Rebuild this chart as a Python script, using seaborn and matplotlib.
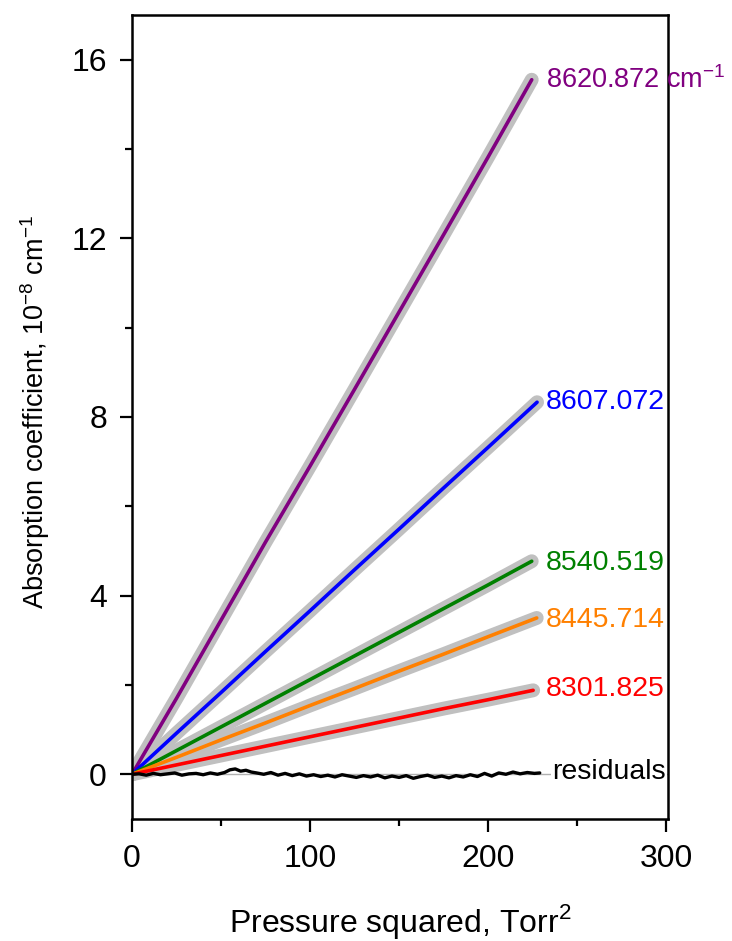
import numpy as np
import pandas as pd
import seaborn as sns
import matplotlib
matplotlib.use("Agg")
import matplotlib.pyplot as plt
from matplotlib.ticker import MultipleLocator

sns.set_style("white")
plt.rcParams['font.family'] = ['Liberation Sans', 'DejaVu Sans']
plt.rcParams['mathtext.fontset'] = 'custom'
plt.rcParams['mathtext.rm'] = 'Liberation Sans'
plt.rcParams['text.color'] = 'black'
plt.rcParams['axes.labelcolor'] = 'black'
plt.rcParams['xtick.color'] = 'black'
plt.rcParams['ytick.color'] = 'black'

# ---- data ----
x_pts = [0, 25, 50, 75, 100, 125, 150, 175, 200, 225]
s8620 = [0.0, 1.70, 3.45, 5.20, 6.90, 8.62, 10.35, 12.08, 13.82, 15.55]
s8607 = [0.0, 0.92, 1.83, 2.75, 3.66, 4.58, 5.49, 6.41, 7.32, 8.33]
s8540 = [0.0, 0.53, 1.06, 1.59, 2.12, 2.65, 3.18, 3.71, 4.24, 4.77]
s8445 = [0.0, 0.38, 0.77, 1.15, 1.54, 1.92, 2.31, 2.69, 3.08, 3.50]
s8301 = [0.0, 0.21, 0.42, 0.63, 0.84, 1.05, 1.26, 1.47, 1.67, 1.88]
end_x = [224.5, 227.5, 224.5, 227.3, 225.3]

series_names = ["8620.872", "8607.072", "8540.519", "8445.714", "8301.825"]
series_vals = [s8620, s8607, s8540, s8445, s8301]
series_colors = ["#800080", "#0000ff", "#008000", "#ff8000", "#ff0000"]
series_labels = ["8620.872 cm$^{-1}$", "8607.072", "8540.519", "8445.714", "8301.825"]
label_y = [15.55, 8.33, 4.74, 3.46, 1.90]

res_x = [0, 4, 8, 12, 16, 20, 24, 28, 32, 36, 40, 44, 48, 52, 55, 58, 61, 64, 67,
         70, 74, 78, 82, 86, 90, 94, 98, 102, 106, 110, 114, 118, 122, 126, 130,
         134, 138, 142, 146, 150, 154, 158, 162, 166, 170, 174, 178, 182, 186,
         190, 194, 198, 202, 206, 210, 214, 218, 222, 226, 229]
res_y = [0.0, 0.01, -0.02, 0.02, -0.01, 0.01, 0.03, -0.02, 0.01, 0.02, -0.01, 0.03,
         0.0, 0.04, 0.10, 0.12, 0.07, 0.09, 0.05, 0.03, 0.0, 0.04, -0.02, 0.02,
         -0.03, 0.01, -0.04, -0.01, -0.05, -0.02, -0.06, -0.01, -0.04, -0.07,
         -0.03, -0.06, -0.02, -0.08, -0.04, -0.07, -0.03, -0.09, -0.05, -0.02,
         -0.07, -0.04, -0.08, -0.03, -0.06, -0.01, -0.05, 0.02, -0.04, 0.03,
         0.0, 0.05, 0.01, 0.04, 0.02, 0.03]

# ---- build long-form table ----
rows = []
for name, vals, ex in zip(series_names, series_vals, end_x):
    xs = list(x_pts[:-1]) + [ex]
    for xv, yv in zip(xs, vals):
        rows.append({"x": xv, "y": yv, "series": name})
df = pd.DataFrame(rows)
df_res = pd.DataFrame({"x": res_x, "y": res_y})

fig = plt.figure(figsize=(7.32, 9.41), dpi=100)
ax = fig.add_axes([0.1803, 0.1297, 0.7322, 0.8544])

ax.axhline(0, color="#b0b0b0", lw=1.0, zorder=0)

# grey bands (data) behind fits
sns.lineplot(data=df, x="x", y="y", hue="series", hue_order=series_names,
             palette=["#c0c0c0"] * 5, lw=10, legend=False, ax=ax,
             solid_capstyle="round", zorder=1, estimator=None, sort=True)
sns.lineplot(data=df, x="x", y="y", hue="series", hue_order=series_names,
             palette=series_colors, lw=2.6, legend=False, ax=ax,
             zorder=2, estimator=None, sort=True)
sns.lineplot(data=df_res, x="x", y="y", color="black", lw=2.4, ax=ax,
             zorder=3, estimator=None)

for i, (lab, ly, c) in enumerate(zip(series_labels, label_y, series_colors)):
    fs = 19.5 if i == 0 else 20.5
    ax.text(232.5, ly, lab, color=c, fontsize=fs, va="center", ha="left")
ax.text(236, 0.04, "residuals", color="black", fontsize=20.5, va="center", ha="left",
        bbox=dict(facecolor="white", edgecolor="none", pad=1))

ax.set_xlim(0, 301)
ax.set_ylim(-1, 17)
ax.xaxis.set_major_locator(MultipleLocator(100))
ax.xaxis.set_minor_locator(MultipleLocator(50))
ax.yaxis.set_major_locator(MultipleLocator(4))
ax.yaxis.set_minor_locator(MultipleLocator(2))
ax.tick_params(axis="both", which="major", direction="out", length=9, width=1.6,
               labelsize=23, bottom=True, left=True, top=False, right=False,
               pad=9, color="black", labelcolor="black")
ax.tick_params(axis="both", which="minor", direction="out", length=5, width=1.6,
               bottom=True, left=True, top=False, right=False, color="black")
for sp in ax.spines.values():
    sp.set_linewidth(1.8)
    sp.set_color("black")

ax.set_xlabel("Pressure squared, Torr$^2$", fontsize=23, labelpad=20)
ax.set_ylabel("Absorption coefficient, 10$^{-8}$ cm$^{-1}$", fontsize=19.5)
ax.yaxis.set_label_coords(-0.150, 0.506)

fig.savefig("out.png", dpi=100)
